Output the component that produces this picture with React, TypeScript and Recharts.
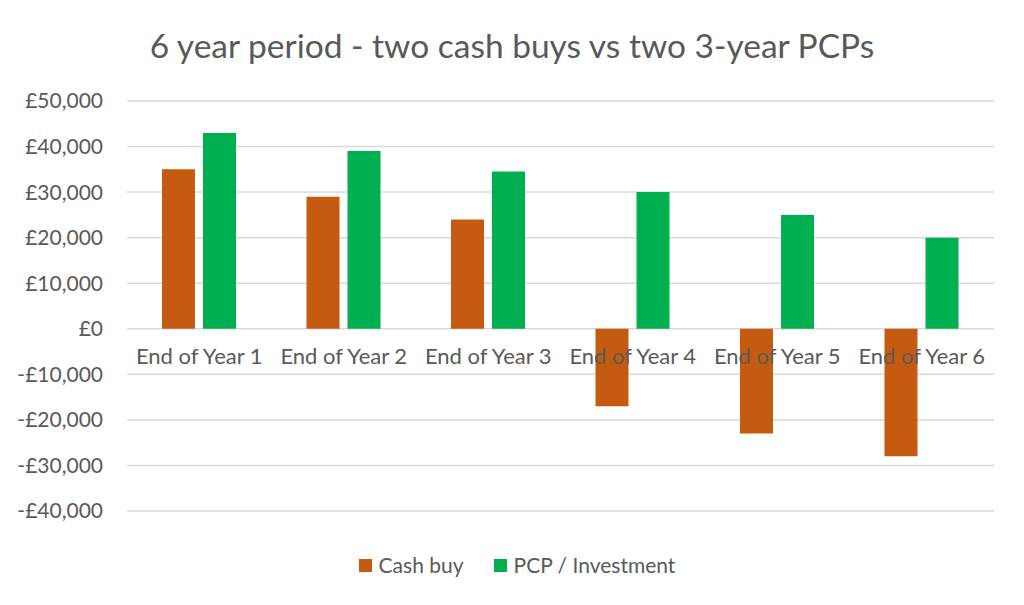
import React from "react";
import { BarChart, Bar, XAxis, YAxis, CartesianGrid, Legend } from "recharts";

const categories = ["End of Year 1", "End of Year 2", "End of Year 3", "End of Year 4", "End of Year 5", "End of Year 6"];
const cashBuy = [35000, 29000, 24000, -17000, -23000, -28000];
const pcpInvestment = [43000, 39000, 34500, 30000, 25000, 20000];
const yTicks = [-40000, -30000, -20000, -10000, 0, 10000, 20000, 30000, 40000, 50000];

const data = categories.map((name, i) => ({
  name,
  cash: cashBuy[i],
  pcp: pcpInvestment[i],
}));

const FONT = "Lato, 'Open Sans', sans-serif";
const TEXT = "#595959";

const W = 1024;
const H = 605;
const TOP = 101;
const PLOT_H = 410;
const Y_MIN = -40000;
const Y_MAX = 50000;

const fmt = (v: number) => {
  const s = "£" + Math.abs(v).toLocaleString("en-GB");
  return v < 0 ? "-" + s : s;
};

// category labels sit just under the zero line, like the Excel original
const CategoryTick = (props: any) => {
  const { x, payload } = props;
  const zeroY = TOP + (PLOT_H * Y_MAX) / (Y_MAX - Y_MIN);
  return (
    <text x={x} y={zeroY + 28} dy="0.35em" textAnchor="middle" fill={TEXT} fontSize={22} fontFamily={FONT}>
      {payload.value}
    </text>
  );
};

const LegendBox = (props: any) => {
  const { payload } = props;
  return (
    <div
      style={{
        display: "flex",
        justifyContent: "center",
        gap: 30,
        paddingLeft: 40,
        fontFamily: FONT,
        fontSize: 21,
        color: TEXT,
        lineHeight: "24px",
      }}
    >
      {(payload || []).map((p: any) => (
        <div key={p.value} style={{ display: "flex", alignItems: "center" }}>
          <span style={{ width: 13, height: 13, background: p.color, display: "inline-block", marginRight: 7 }} />
          <span>{p.value}</span>
        </div>
      ))}
    </div>
  );
};

export default function App() {
  return (
    <div style={{ position: "absolute", left: 0, top: 0, width: W, height: H, background: "#fff" }}>
      <div
        style={{
          position: "absolute",
          top: 25,
          left: 0,
          width: W,
          textAlign: "center",
          fontFamily: FONT,
          fontSize: 33.5,
          color: TEXT,
          zIndex: 2,
        }}
      >
        6 year period - two cash buys vs two 3-year PCPs
      </div>
      <BarChart
        width={W}
        height={H}
        data={data}
        margin={{ top: TOP, right: 30, left: 0, bottom: 28 }}
        barGap={8}
        barSize={33}
      >
        <CartesianGrid vertical={false} stroke="#d9d9d9" strokeWidth={1.5} />
        <XAxis
          dataKey="name"
          axisLine={false}
          tickLine={false}
          height={1}
          tick={(p: any) => <CategoryTick {...p} />}
          interval={0}
        />
        <YAxis
          width={127}
          domain={[Y_MIN, Y_MAX]}
          ticks={yTicks}
          tickFormatter={fmt}
          axisLine={false}
          tickLine={false}
          tickMargin={18}
          tick={{ fill: TEXT, fontSize: 21, fontFamily: FONT }}
          interval={0}
        />
        <Legend verticalAlign="bottom" content={<LegendBox />} wrapperStyle={{ paddingTop: 41 }} />
        <Bar dataKey="cash" name="Cash buy" fill="#C55A11" isAnimationActive={false} />
        <Bar dataKey="pcp" name="PCP / Investment" fill="#00B050" isAnimationActive={false} />
      </BarChart>
    </div>
  );
}
